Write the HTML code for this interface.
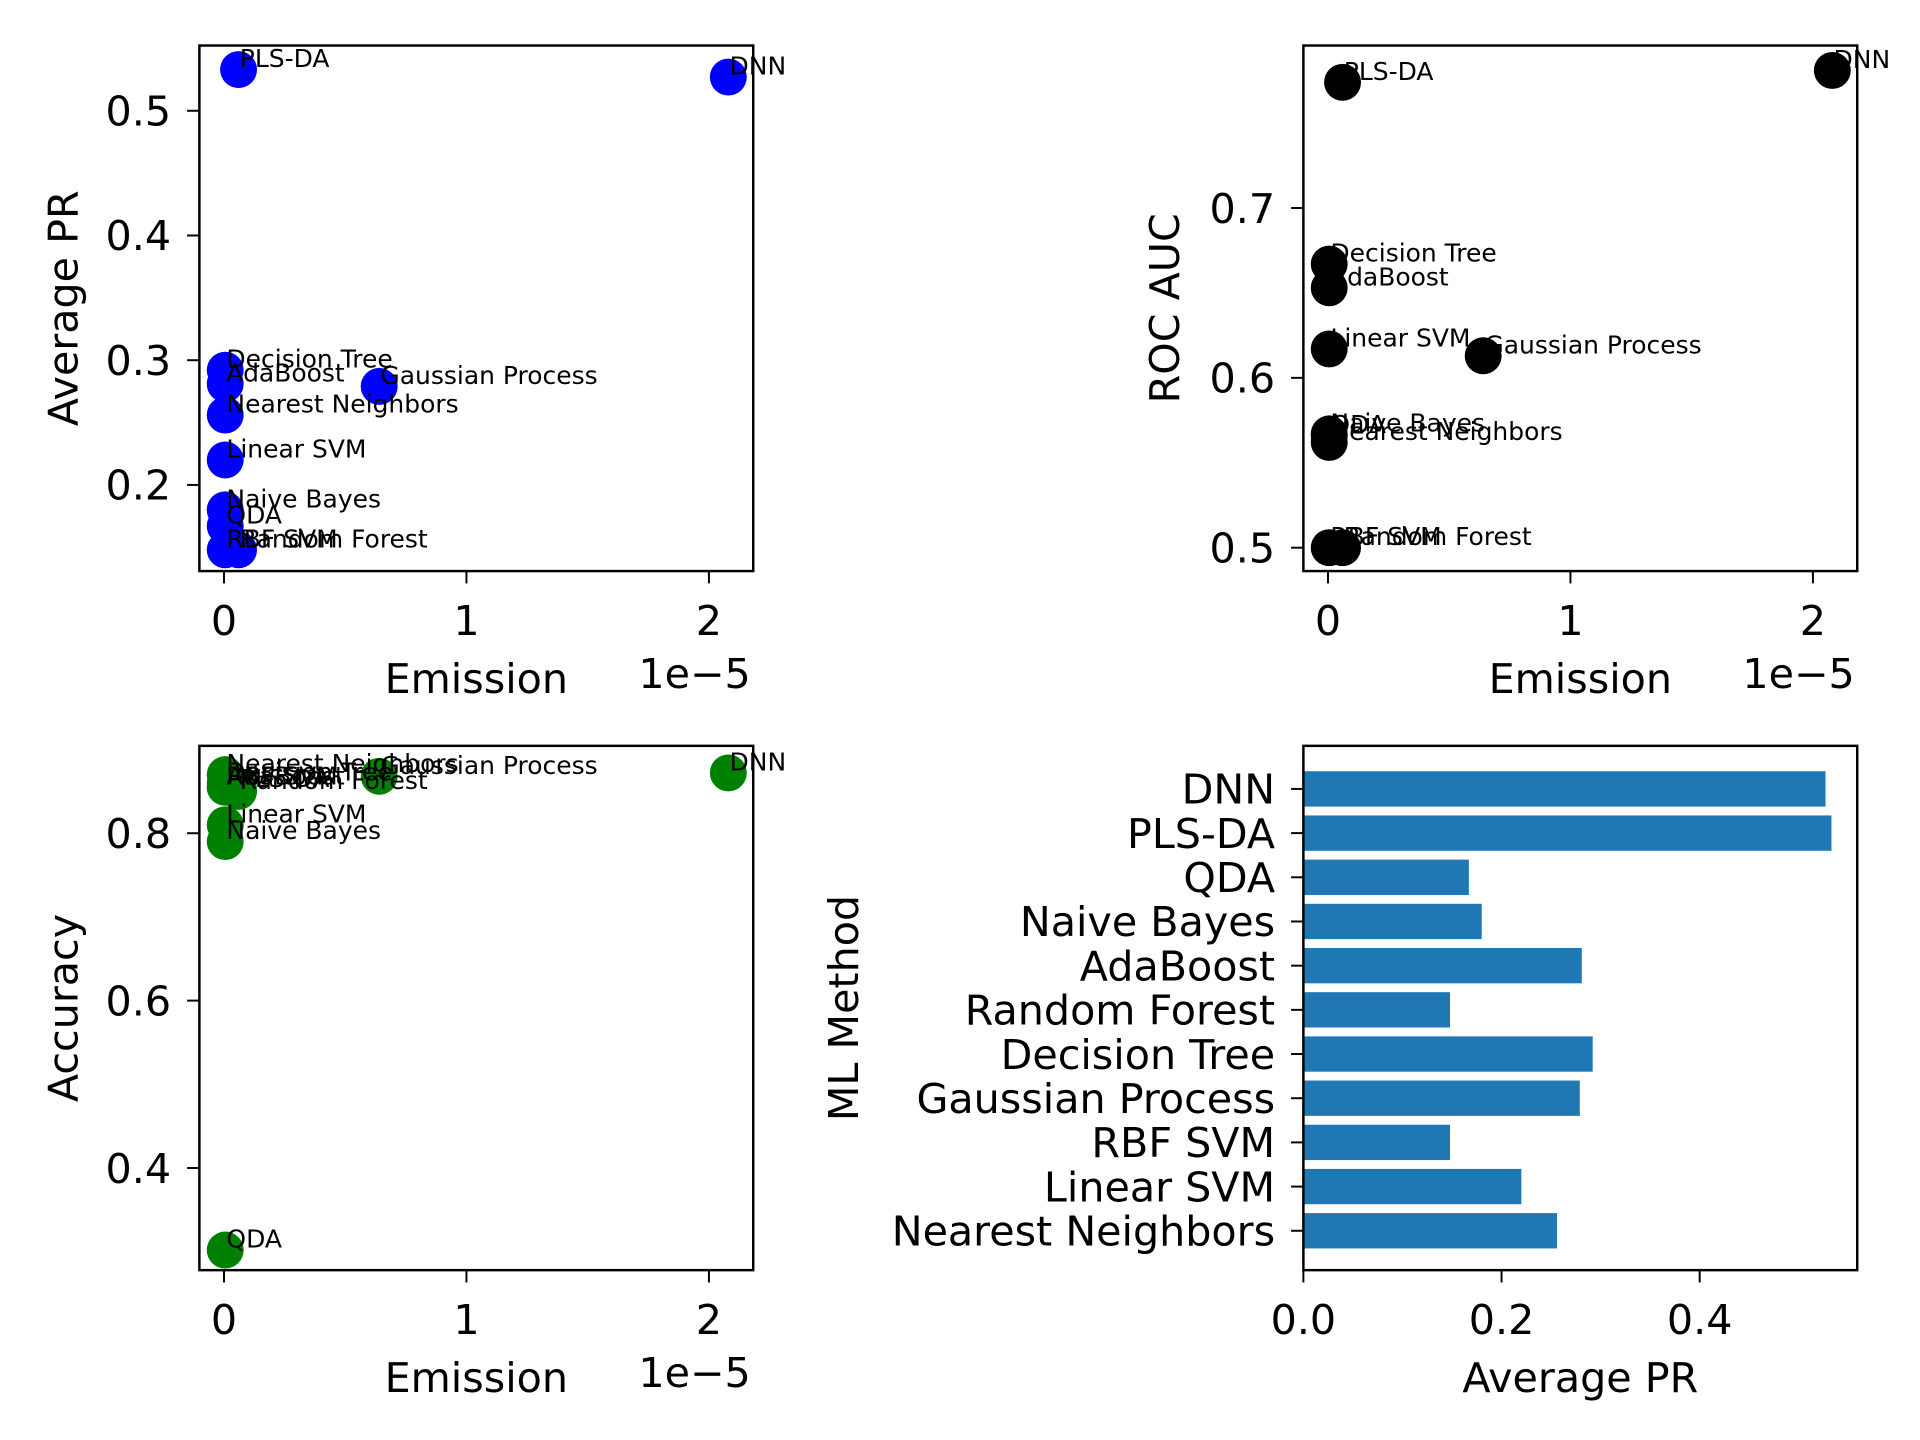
<!DOCTYPE html>
<html><head><meta charset="utf-8"><style>
html,body{margin:0;padding:0;background:#fff;}
svg{display:block;}
text{font-family:"DejaVu Sans","Liberation Sans",sans-serif;fill:#000;}
</style></head>
<body>
<svg id="fig" width="1920" height="1440" viewBox="0 0 1560 1170" xmlns="http://www.w3.org/2000/svg"></svg>
<script>
const methods = ["Nearest Neighbors","Linear SVM","RBF SVM","Gaussian Process","Decision Tree","Random Forest","AdaBoost","Naive Bayes","QDA","PLS-DA","DNN"];
const emission = [0.005,0.005,0.005,0.64,0.005,0.06,0.005,0.005,0.005,0.06,2.08];
const avgPR = [0.256,0.220,0.148,0.279,0.292,0.148,0.281,0.180,0.167,0.533,0.527];
const rocAUC = [0.562,0.617,0.500,0.613,0.667,0.500,0.653,0.567,0.566,0.774,0.781];
const accuracy = [0.870,0.810,0.855,0.868,0.860,0.850,0.855,0.790,0.302,0.852,0.872];
const barOrder = ["Nearest Neighbors","Linear SVM","RBF SVM","Gaussian Process","Decision Tree","Random Forest","AdaBoost","Naive Bayes","QDA","PLS-DA","DNN"];
const emissionTicks = [0,1,2];
const prTicks = [0.2,0.3,0.4,0.5];
const rocTicks = [0.5,0.6,0.7];
const accTicks = [0.4,0.6,0.8];
const barTicks = [0.0,0.2,0.4];

const NS="http://www.w3.org/2000/svg";
const svg=document.getElementById('fig');
function el(tag,attrs,parent,txt){const e=document.createElementNS(NS,tag);for(const k in attrs)e.setAttribute(k,attrs[k]);if(txt!==undefined)e.textContent=txt;(parent||svg).appendChild(e);return e;}
function lin(d0,d1,r0,r1){return v=>r0+(v-d0)*(r1-r0)/(d1-d0);}
const FS=33.5, AF=20.3, TL=10, YG=23;

function frame(g,L,R,T,B){
  const f=el('rect',{x:L,y:T,width:R-L,height:B-T,fill:'none',stroke:'#000','stroke-width':2},g);
  
  
}
function scatter(name,L,R,T,B,xs,ys,yticks,ytickFmt,color,ylabel,ylabelX){
  const g=el('g',{},svg);
  
  
  const xS=lin(0,1,182+(L-162),379+(L-162));
  const yS=ys;
  for(let i=0;i<methods.length;i++){
    const c=el('circle',{cx:xS(emission[i]),cy:yS.f(yS.vals[i]),r:15,fill:color},g);
    
    
  }
  for(let i=0;i<methods.length;i++){
    const t=el('text',{x:xS(emission[i])+1,y:yS.f(yS.vals[i])-2,'font-size':AF},g,methods[i]);
    
    
  }
  frame(g,L,R,T,B);
  for(const v of emissionTicks){
    const x=xS(v);
    el('line',{x1:x,x2:x,y1:B,y2:B+TL,stroke:'#000','stroke-width':1.6},g);
    const t=el('text',{x:x,y:B+52,'font-size':FS,'text-anchor':'middle'},g,String(v));
    
    
  }
  for(const v of yticks){
    const y=yS.f(v);
    el('line',{x1:L-TL,x2:L,y1:y,y2:y,stroke:'#000','stroke-width':1.6},g);
    const t=el('text',{x:L-YG,y:y+12,'font-size':FS,'text-anchor':'end'},g,v.toFixed(1));
    
    
  }
  const xl=el('text',{x:(L+R)/2-0,y:B+99,'font-size':FS,'text-anchor':'middle'},g,'Emission');
  
  
  const off=el('text',{x:R-2,y:B+95,'font-size':FS,'text-anchor':'end'},g,'1e\u22125');
  
  
  const yc=(T+B)/2;
  const yl=el('text',{x:ylabelX,y:yc,'font-size':FS,'text-anchor':'middle',transform:`rotate(-90 ${ylabelX} ${yc})`},g,ylabel);
  
  
}
scatter('average-pr-scatter',162,612,37,464,emission,{f:lin(0.5,0.2,90,394),vals:avgPR},prTicks,null,'#0000ff','Average PR',63);
scatter('roc-auc-scatter',1059,1509,37,464,emission,{f:lin(0.7,0.5,169,445),vals:rocAUC},rocTicks,null,'#000000','ROC AUC',958);
scatter('accuracy-scatter',162,612,606,1032,emission,{f:lin(0.8,0.4,677,949),vals:accuracy},accTicks,null,'#008000','Accuracy',63);

(function(){
  const L=1059,R=1509,T=606,B=1032;
  const g=el('g',{},svg);
  
  
  const xS=lin(0,0.4,1059,1381);
  const yS=lin(0,10,1000,641);
  const bh=28.7;
  barOrder.forEach((m,i)=>{
    const v=avgPR[methods.indexOf(m)];
    const r=el('rect',{x:xS(0),y:yS(i)-bh/2,width:xS(v)-xS(0),height:bh,fill:'#1f77b4'},g);
    
    
    el('line',{x1:L-TL,x2:L,y1:yS(i),y2:yS(i),stroke:'#000','stroke-width':1.6},g);
    const t=el('text',{x:L-YG,y:yS(i)+12,'font-size':FS,'text-anchor':'end'},g,m);
    
    
  });
  frame(g,L,R,T,B);
  for(const v of barTicks){
    const x=xS(v);
    el('line',{x1:x,x2:x,y1:B,y2:B+TL,stroke:'#000','stroke-width':1.6},g);
    const t=el('text',{x:x,y:B+52,'font-size':FS,'text-anchor':'middle'},g,v.toFixed(1));
    
    
  }
  const xl=el('text',{x:(L+R)/2,y:B+99,'font-size':FS,'text-anchor':'middle'},g,'Average PR');
  
  
  const yc=(T+B)/2;
  const yl=el('text',{x:697,y:yc,'font-size':FS,'text-anchor':'middle',transform:`rotate(-90 697 ${yc})`},g,'ML Method');
  
  
})();
</script>
</body></html>
